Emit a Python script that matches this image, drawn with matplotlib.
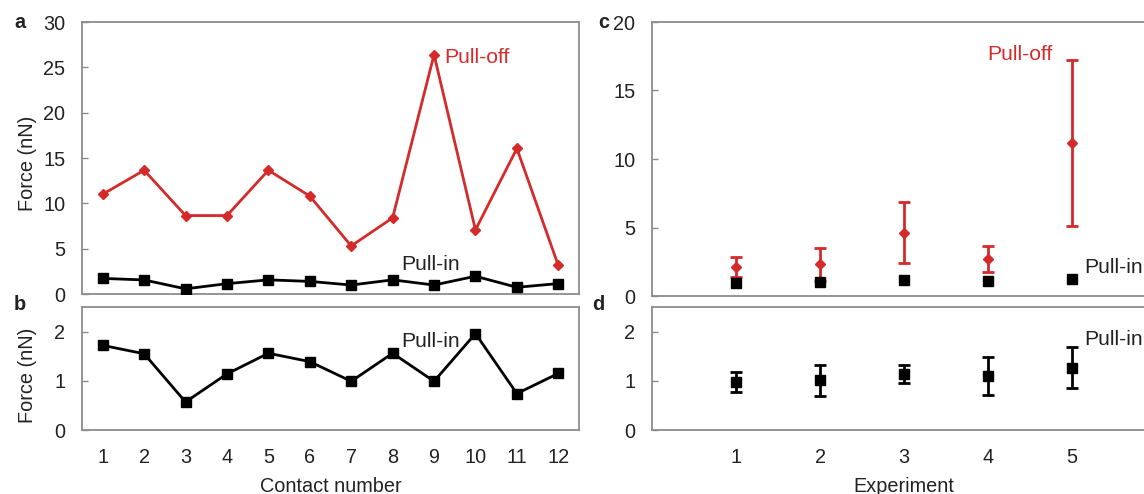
import matplotlib
matplotlib.use("Agg")
import matplotlib.pyplot as plt
import numpy as np

plt.rcParams['font.family'] = ['Liberation Sans', 'DejaVu Sans']

# Individual contacts
contact = [1, 2, 3, 4, 5, 6, 7, 8, 9, 10, 11, 12]
pull_off = [11.0, 13.65, 8.65, 8.65, 13.65, 10.8, 5.3, 8.4, 26.4, 7.07, 16.05, 3.15]
pull_in = [1.72, 1.55, 0.57, 1.14, 1.56, 1.39, 0.99, 1.56, 0.99, 1.96, 0.74, 1.15]

# Experiment averages
experiment = [1, 2, 3, 4, 5]
off_mean = [2.1, 2.3, 4.62, 2.7, 11.15]
off_err = [0.73, 1.17, 2.24, 0.92, 6.05]
in_mean = [0.98, 1.01, 1.14, 1.10, 1.27]
in_err = [0.20, 0.31, 0.18, 0.39, 0.42]

RED = '#d42a2a'
TXT = '#222222'
SPINE = '#8c8c8c'
FS = 14.3
FS_NOTE = 15.2

W, H = 1144, 494
fig = plt.figure(figsize=(W / 100, H / 100), dpi=100)


def box(l, t, r, b):
    return [l / W, 1 - b / H, (r - l) / W, (b - t) / H]


ax_a = fig.add_axes(box(82, 22, 579, 294))
ax_b = fig.add_axes(box(82, 307, 579, 430))
ax_c = fig.add_axes(box(652, 22, 1156, 296))
ax_d = fig.add_axes(box(652, 307, 1156, 430))

for ax in (ax_a, ax_b, ax_c, ax_d):
    for s in ax.spines.values():
        s.set_color(SPINE)
        s.set_linewidth(1.3)
    ax.tick_params(axis='y', direction='in', length=4, width=1.0, color=SPINE,
                   labelsize=FS, labelcolor=TXT, pad=12)
    ax.tick_params(axis='x', length=0, labelsize=FS, labelcolor=TXT, pad=13)

# a: pull-off and pull-in per contact
ax_a.plot(contact, pull_off, color=RED, lw=2.0, marker='D', ms=5.5, zorder=3)
ax_a.plot(contact, pull_in, color='black', lw=2.0, marker='s', ms=7.5, zorder=3)
ax_a.set_xlim(0.5, 12.5)
ax_a.set_ylim(0, 30)
ax_a.set_yticks([0, 5, 10, 15, 20, 25, 30])
ax_a.set_xticks(contact)
ax_a.set_xticklabels([])
ax_a.set_ylabel('Force (nN)', fontsize=FS, color=TXT)
ax_a.yaxis.set_label_coords(-0.091, 0.48)
ax_a.text(9.24, 26.1, 'Pull-off', color=RED, fontsize=FS_NOTE, ha='left', va='center')
ax_a.text(8.2, 3.3, 'Pull-in', color=TXT, fontsize=FS_NOTE, ha='left', va='center')

# b: pull-in per contact, expanded scale
ax_b.plot(contact, pull_in, color='black', lw=2.0, marker='s', ms=7.5, zorder=3)
ax_b.set_xlim(0.5, 12.5)
ax_b.set_ylim(0, 2.5)
ax_b.set_yticks([0, 1, 2])
ax_b.set_xticks(contact)
ax_b.set_xticklabels([str(c) for c in contact])
ax_b.set_ylabel('Force (nN)', fontsize=FS, color=TXT)
ax_b.yaxis.set_label_coords(-0.091, 0.447)
ax_b.set_xlabel('Contact number', fontsize=FS, color=TXT, labelpad=7)
ax_b.text(8.2, 1.8, 'Pull-in', color=TXT, fontsize=FS_NOTE, ha='left', va='center')

# c: experiment means with spread
ax_c.errorbar(experiment, off_mean, yerr=off_err, color=RED, lw=2.0, marker='D',
              ms=5.5, capsize=4, capthick=2.0, ls='none', zorder=2)
ax_c.plot(experiment, in_mean, color='black', marker='s', ms=7.5, ls='none', zorder=3)
ax_c.set_xlim(0, 6)
ax_c.set_ylim(0, 20)
ax_c.set_yticks([0, 5, 10, 15, 20])
ax_c.set_xticks(experiment)
ax_c.set_xticklabels([])
ax_c.text(4.77, 17.6, 'Pull-off', color=RED, fontsize=FS_NOTE, ha='right', va='center')
ax_c.text(5.14, 2.05, 'Pull-in', color=TXT, fontsize=FS_NOTE, ha='left', va='center',
          clip_on=False)

# d: pull-in means, expanded scale
ax_d.errorbar(experiment, in_mean, yerr=in_err, color='black', lw=2.0, marker='s',
              ms=7.5, capsize=4, capthick=2.0, ls='none', zorder=3)
ax_d.set_xlim(0, 6)
ax_d.set_ylim(0, 2.5)
ax_d.set_yticks([0, 1, 2])
ax_d.set_xticks(experiment)
ax_d.set_xticklabels([str(e) for e in experiment])
ax_d.set_xlabel('Experiment', fontsize=FS, color=TXT, labelpad=7)
ax_d.text(5.14, 1.84, 'Pull-in', color=TXT, fontsize=FS_NOTE, ha='left', va='center',
          clip_on=False)

# Panel letters
for lbl, x, y in (('a', 14, 22), ('b', 14, 305), ('c', 598, 22), ('d', 592, 305)):
    fig.text(x / W, 1 - y / H, lbl, fontsize=FS, fontweight='bold', color=TXT,
             ha='left', va='center')

fig.savefig('out.png', dpi=100, facecolor='white')
